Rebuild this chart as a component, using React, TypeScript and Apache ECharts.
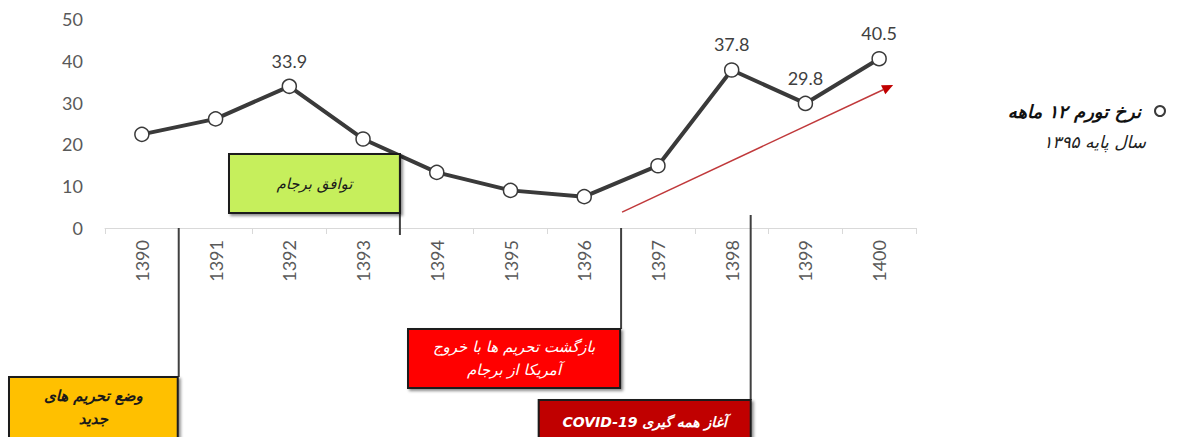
import React, { useEffect, useRef } from "react";
import * as echarts from "echarts";

const years = ["1390", "1391", "1392", "1393", "1394", "1395", "1396", "1397", "1398", "1399", "1400"];
const inflation = [22.4, 26.1, 33.9, 21.3, 13.3, 9.0, 7.5, 14.9, 37.8, 29.8, 40.5];
const labeledYears = ["1392", "1398", "1399", "1400"];
const yTicks = { min: 0, max: 50, interval: 10 };
const seriesName = "نرخ تورم ۱۲ ماهه";
const seriesSubtitle = "سال پایه ۱۳۹۵";
const eventTexts = {
  sanctions: "وضع تحریم های\nجدید",
  jcpoa: "توافق برجام",
  returnSanctions: "بازگشت تحریم ها با خروج\nآمریکا از برجام",
  covid: "\u202Bآغاز همه گیری COVID-19\u202C",
};
const trendStart = 3.8;
const trendEnd = 34.2;

const FA = "'DejaVu Sans', 'Noto Sans', sans-serif";
const NUM = "Lato, 'Open Sans', sans-serif";

export default function App() {
  const ref = useRef<HTMLDivElement>(null);
  useEffect(() => {
    if (!ref.current) return;
    const chart = echarts.init(ref.current, null, { renderer: "svg" });
    chart.setOption({
      animation: false,
      backgroundColor: "#ffffff",
      grid: { left: 105, right: 264, top: 19, bottom: 209 },
      legend: {
        data: [seriesName],
        right: 9,
        top: 97,
        align: "right",
        icon: "circle",
        itemWidth: 10,
        itemHeight: 10,
        itemGap: 0,
        textStyle: {
          fontFamily: FA,
          fontStyle: "italic",
          fontWeight: "bold",
          fontSize: 18,
          color: "#111",
          padding: [0, 9, 0, 0],
        },
      },
      xAxis: {
        type: "category",
        data: years,
        boundaryGap: true,
        axisLine: { lineStyle: { color: "#d9d9d9", width: 1 } },
        axisTick: { show: true, length: 6, lineStyle: { color: "#d9d9d9" } },
        axisLabel: { rotate: 90, margin: 12, fontSize: 18, color: "#595959", fontFamily: NUM },
      },
      yAxis: {
        type: "value",
        min: yTicks.min,
        max: yTicks.max,
        interval: yTicks.interval,
        axisLine: { show: false },
        axisTick: { show: false },
        splitLine: { show: false },
        axisLabel: { margin: 22, fontSize: 18, color: "#595959", fontFamily: NUM },
      },
      series: [
        {
          name: seriesName,
          type: "line",
          data: inflation.map((v, i) => ({
            value: v,
            label: { show: labeledYears.includes(years[i]) },
          })),
          symbol: "circle",
          symbolSize: 14,
          lineStyle: { color: "#3a3a3a", width: 4 },
          itemStyle: { color: "#ffffff", borderColor: "#3a3a3a", borderWidth: 1.5 },
          label: {
            position: "top",
            distance: 9,
            fontSize: 18,
            color: "#404040",
            fontFamily: NUM,
          },
          z: 5,
        },
      ],
    });

    const cx = (i: number) => chart.convertToPixel({ xAxisIndex: 0 }, i) as number;
    const py = (v: number) => chart.convertToPixel({ yAxisIndex: 0 }, v) as number;
    const bound = (i: number) => (cx(i) + cx(i + 1)) / 2;
    const y0 = py(0);

    const shadow = { shadowBlur: 3, shadowOffsetX: 2, shadowOffsetY: 2, shadowColor: "rgba(0,0,0,0.45)" };
    const box = (x: number, y: number, w: number, h: number, fill: string, text: string, color: string, size: number, bold: boolean) => [
      {
        type: "rect",
        shape: { x, y, width: w, height: h },
        style: { fill, stroke: "#1a1a1a", lineWidth: 2, ...shadow },
        z: 10,
      },
      {
        type: "text",
        x: x + w / 2,
        y: y + Math.min(h, 60) / 2,
        style: {
          text,
          textAlign: "center",
          textVerticalAlign: "middle",
          fill: color,
          fontFamily: FA,
          fontStyle: "italic",
          fontWeight: bold ? "bold" : "normal",
          fontSize: size,
          lineHeight: size + 8,
        },
        z: 11,
      },
    ];
    const vline = (x: number, ya: number, yb: number) => ({
      type: "line",
      shape: { x1: x, y1: ya, x2: x, y2: yb },
      style: { stroke: "#404040", lineWidth: 2 },
      z: 9,
    });

    const xs = bound(0);
    const xj = bound(3);
    const xr = bound(6);
    const xc = cx(8) + 19;

    const ax = xr + 1;
    const ay = py(trendStart);
    const bx = cx(10) + 14;
    const by = py(trendEnd);
    const ang = Math.atan2(by - ay, bx - ax);
    const hl = 11;
    const hw = 5;
    const baseX = bx - hl * Math.cos(ang);
    const baseY = by - hl * Math.sin(ang);
    const nx = -Math.sin(ang);
    const ny = Math.cos(ang);

    chart.setOption({
      graphic: [
        vline(xs, y0, 377),
        ...box(9, 377, xs - 10, 64, "#ffc000", eventTexts.sanctions, "#1a1a1a", 15, true),
        vline(xj, 154, 235),
        ...box(229, 154, xj - 229, 59, "#c6ef5c", eventTexts.jcpoa, "#1a1a1a", 15, false),
        vline(xr, y0, 329),
        ...box(408, 329, xr - 409, 59, "#ff0000", eventTexts.returnSanctions, "#ffffff", 15, false),
        vline(xc, 215, 400),
        ...box(xc - 212, 400, 212, 44, "#c00000", eventTexts.covid, "#ffffff", 14, true),
        {
          type: "line",
          shape: { x1: ax, y1: ay, x2: baseX, y2: baseY },
          style: { stroke: "#c0393b", lineWidth: 1.5 },
          z: 4,
        },
        {
          type: "polygon",
          shape: {
            points: [
              [bx, by],
              [baseX + nx * hw, baseY + ny * hw],
              [baseX - nx * hw, baseY - ny * hw],
            ],
          },
          style: { fill: "#c00000" },
          z: 4,
        },
        {
          type: "text",
          x: 1146,
          y: 142,
          style: {
            text: seriesSubtitle,
            textAlign: "right",
            textVerticalAlign: "middle",
            fill: "#222",
            fontFamily: FA,
            fontStyle: "italic",
            fontSize: 17,
          },
        },
      ],
    });

    return () => chart.dispose();
  }, []);
  return <div ref={ref} style={{ position: "fixed", left: 0, top: 0, width: 1180, height: 437 }} />;
}
